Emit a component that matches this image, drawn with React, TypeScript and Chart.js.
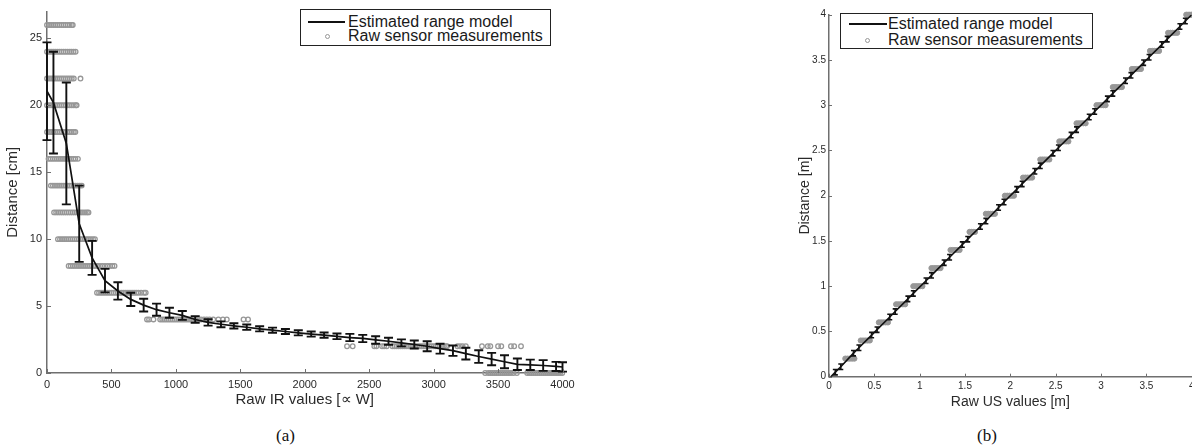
import React, { useEffect, useRef } from "react";
import { Chart, registerables } from "chart.js";

Chart.register(...registerables);

// ---------------- (a) IR sensor ----------------
const irModelX = [0, 50, 150, 250, 350, 450, 550, 650, 750, 850, 950, 1050, 1150, 1250, 1350, 1450, 1550, 1650, 1750, 1850, 1950, 2050, 2150, 2250, 2350, 2450, 2550, 2650, 2750, 2850, 2950, 3050, 3150, 3250, 3350, 3450, 3550, 3650, 3750, 3850, 3950, 4000];
const irModelMean = [21.05, 20.2, 17.15, 11.15, 8.6, 6.9, 6.13, 5.5, 5.07, 4.73, 4.5, 4.3, 4.0, 3.78, 3.64, 3.52, 3.42, 3.3, 3.2, 3.1, 3.0, 2.91, 2.83, 2.74, 2.65, 2.58, 2.47, 2.37, 2.25, 2.13, 2.0, 1.82, 1.67, 1.45, 1.23, 1.04, 0.84, 0.65, 0.61, 0.56, 0.49, 0.45];
const irModelErr = [3.65, 3.8, 4.55, 2.85, 1.27, 0.88, 0.65, 0.5, 0.48, 0.45, 0.37, 0.33, 0.25, 0.24, 0.22, 0.2, 0.2, 0.19, 0.19, 0.19, 0.19, 0.19, 0.2, 0.21, 0.27, 0.27, 0.28, 0.26, 0.26, 0.3, 0.37, 0.37, 0.39, 0.44, 0.47, 0.46, 0.49, 0.43, 0.39, 0.4, 0.34, 0.35];

// raw IR measurements: one x-list per true distance (cm)
const ir26 = [0, 16, 32, 48, 64, 80, 96, 112, 128, 144, 160, 176, 192, 200];
const ir24 = [0, 16, 32, 48, 64, 80, 96, 112, 128, 144, 160, 176, 190, 206, 222];
const ir22 = [0, 16, 32, 48, 64, 80, 96, 112, 128, 144, 160, 176, 192, 208, 260];
const ir20 = [0, 16, 32, 48, 64, 80, 96, 112, 128, 144, 160, 176, 192, 208, 224, 230];
const ir18 = [0, 16, 32, 48, 64, 80, 96, 112, 128, 144, 160, 176, 192, 208, 220];
const ir16 = [12, 28, 44, 60, 76, 92, 108, 124, 140, 156, 172, 188, 204, 220, 240];
const ir14 = [30, 46, 62, 78, 94, 110, 126, 142, 158, 174, 190, 206, 222, 238, 254, 270];
const ir12 = [55, 71, 87, 103, 119, 135, 151, 167, 183, 199, 215, 231, 247, 263, 279, 295, 310, 322];
const ir10 = [85, 101, 117, 133, 149, 165, 181, 197, 213, 229, 245, 261, 277, 293, 309, 325, 341, 357, 372];
const ir8 = [168, 184, 200, 216, 232, 248, 264, 280, 296, 312, 328, 344, 360, 376, 392, 411, 430, 450, 470, 489, 507, 524];
const ir6 = [388, 404, 420, 436, 452, 468, 484, 500, 516, 532, 548, 564, 580, 596, 612, 628, 644, 660, 676, 692, 709, 730, 753, 766];
const ir4 = [776, 792, 826, 878, 894, 910, 926, 942, 958, 974, 990, 1006, 1022, 1038, 1054, 1070, 1086, 1102, 1118, 1134, 1152, 1172, 1195, 1218, 1240, 1262, 1290, 1330, 1365, 1395, 1525, 1560];
const ir2 = [2328, 2372, 2540, 2556, 2600, 2616, 2636, 2680, 2696, 2712, 2728, 2744, 2760, 2776, 2792, 2808, 2824, 2840, 2856, 2872, 2888, 2904, 2920, 2936, 2952, 2968, 2984, 3000, 3016, 3032, 3048, 3064, 3080, 3096, 3104, 3185, 3205, 3225, 3250, 3375, 3420, 3440, 3500, 3525, 3600, 3625, 3678];
const ir0 = [3400, 3424, 3440, 3456, 3472, 3488, 3504, 3520, 3536, 3552, 3568, 3584, 3600, 3620, 3646, 3726, 3742, 3758, 3774, 3790, 3806, 3822, 3838, 3854, 3870, 3886, 3902, 3918, 3934, 3950, 3966, 3982, 3998];
const irLevels = [26, 24, 22, 20, 18, 16, 14, 12, 10, 8, 6, 4, 2, 0];
const irRows = [ir26, ir24, ir22, ir20, ir18, ir16, ir14, ir12, ir10, ir8, ir6, ir4, ir2, ir0];
const irXTicks = [0, 500, 1000, 1500, 2000, 2500, 3000, 3500, 4000];
const irYTicks = [0, 5, 10, 15, 20, 25];

// ---------------- (b) US sensor ----------------
const usModelX = [0.02, 0.07, 0.13, 0.27, 0.33, 0.47, 0.53, 0.67, 0.73, 0.87, 0.93, 1.07, 1.13, 1.27, 1.33, 1.47, 1.53, 1.67, 1.73, 1.87, 1.93, 2.07, 2.13, 2.27, 2.33, 2.47, 2.53, 2.67, 2.73, 2.87, 2.93, 3.07, 3.13, 3.27, 3.33, 3.47, 3.53, 3.67, 3.73, 3.87, 3.93, 4.0];
const usModelY = [0.0, 0.05, 0.11, 0.26, 0.32, 0.46, 0.52, 0.66, 0.72, 0.86, 0.92, 1.06, 1.12, 1.26, 1.32, 1.46, 1.52, 1.66, 1.72, 1.87, 1.93, 2.07, 2.13, 2.27, 2.33, 2.47, 2.53, 2.67, 2.73, 2.87, 2.93, 3.07, 3.13, 3.27, 3.33, 3.47, 3.53, 3.67, 3.73, 3.87, 3.93, 4.0];
const usModelErr = [0, 0.03, 0.03, 0.03, 0.03, 0.03, 0.03, 0.03, 0.03, 0.03, 0.03, 0.03, 0.03, 0.03, 0.03, 0.03, 0.03, 0.03, 0.03, 0.03, 0.03, 0.03, 0.03, 0.03, 0.03, 0.03, 0.03, 0.03, 0.03, 0.03, 0.03, 0.03, 0.03, 0.03, 0.03, 0.03, 0.03, 0.03, 0.03, 0.03, 0.03, 0];

const usLevels = [0.2, 0.4, 0.6, 0.8, 1.0, 1.2, 1.4, 1.6, 1.8, 2.0, 2.2, 2.4, 2.6, 2.8, 3.0, 3.2, 3.4, 3.6, 3.8, 4.0];
const usRows = [
  [0.18, 0.205, 0.23, 0.255, 0.28],
  [0.35, 0.375, 0.4, 0.425, 0.45],
  [0.55, 0.575, 0.6, 0.625, 0.65],
  [0.74, 0.765, 0.79, 0.815, 0.84],
  [0.93, 0.955, 0.98, 1.005, 1.03],
  [1.13, 1.155, 1.18, 1.205, 1.23],
  [1.34, 1.365, 1.39, 1.415, 1.44],
  [1.55, 1.57, 1.59, 1.61],
  [1.73, 1.755, 1.78, 1.805, 1.83],
  [1.94, 1.965, 1.99, 2.015, 2.04],
  [2.14, 2.165, 2.19, 2.215, 2.24],
  [2.33, 2.355, 2.38, 2.405, 2.43],
  [2.54, 2.565, 2.59, 2.615, 2.64],
  [2.73, 2.755, 2.78, 2.805, 2.83],
  [2.95, 2.975, 3.0, 3.025, 3.05],
  [3.13, 3.155, 3.18, 3.205, 3.23],
  [3.34, 3.365, 3.39, 3.415, 3.44],
  [3.54, 3.565, 3.59, 3.615, 3.64],
  [3.74, 3.765, 3.79, 3.815, 3.84],
  [3.94, 3.96, 3.98, 4.0],
];
const usTicks = [0, 0.5, 1, 1.5, 2, 2.5, 3, 3.5, 4];

const legendLabels = ["Estimated range model", "Raw sensor measurements"];

// ---------------- plugins ----------------
const errorBarPlugin = {
  id: "errorBars",
  afterDatasetsDraw(chart: any) {
    const ctx = chart.ctx;
    const ys = chart.scales.y;
    chart.data.datasets.forEach((ds: any, i: number) => {
      if (!ds.errors) return;
      const meta = chart.getDatasetMeta(i);
      ctx.save();
      ctx.strokeStyle = ds.errorColor;
      ctx.lineWidth = ds.errorWidth;
      meta.data.forEach((pt: any, j: number) => {
        const e = ds.errors[j];
        if (!e) return;
        const v = ds.data[j].y;
        const x = pt.x;
        const top = ys.getPixelForValue(v + e);
        const bot = ys.getPixelForValue(v - e);
        const hw = ds.capHalf;
        ctx.beginPath();
        ctx.moveTo(x, top);
        ctx.lineTo(x, bot);
        ctx.moveTo(x - hw, top);
        ctx.lineTo(x + hw, top);
        ctx.moveTo(x - hw, bot);
        ctx.lineTo(x + hw, bot);
        ctx.stroke();
      });
      ctx.restore();
    });
  },
};

const inTicksPlugin = {
  id: "inTicks",
  afterDraw(chart: any, _args: any, opts: any) {
    const { ctx, chartArea } = chart;
    const xs = chart.scales.x;
    const ys = chart.scales.y;
    const len = opts.len || 4;
    ctx.save();
    ctx.strokeStyle = opts.color || "#666";
    ctx.lineWidth = 1;
    ctx.beginPath();
    xs.ticks.forEach((t: any) => {
      const px = Math.round(xs.getPixelForValue(t.value)) + 0.5;
      ctx.moveTo(px, chartArea.bottom);
      ctx.lineTo(px, chartArea.bottom - len);
    });
    ys.ticks.forEach((t: any) => {
      const py = Math.round(ys.getPixelForValue(t.value)) + 0.5;
      ctx.moveTo(chartArea.left, py);
      ctx.lineTo(chartArea.left + len, py);
    });
    ctx.stroke();
    ctx.restore();
  },
};

const FONT = "'Liberation Sans', Arial, sans-serif";
const AXIS_GRAY = "#6f6f6f";
const TEXT = "#2a2a2a";
const RAW_GRAY = "#979797";
const plainTick = (v: any) => String(v);

function makeIRConfig(): any {
  const model = irModelX.map((x, i) => ({ x, y: irModelMean[i] }));
  const raw: { x: number; y: number }[] = [];
  irRows.forEach((row, r) => row.forEach((x) => raw.push({ x, y: irLevels[r] })));
  return {
    type: "scatter",
    data: {
      datasets: [
        {
          label: legendLabels[0],
          data: model,
          showLine: true,
          borderColor: "#111",
          borderWidth: 1.7,
          pointRadius: 0,
          tension: 0,
          order: 1,
          errors: irModelErr,
          errorColor: "#111",
          errorWidth: 1.9,
          capHalf: 4.5,
        },
        {
          label: legendLabels[1],
          data: raw,
          pointStyle: "circle",
          pointRadius: 2.3,
          borderColor: RAW_GRAY,
          backgroundColor: "rgba(255,255,255,0)",
          borderWidth: 1.3,
          order: 2,
          clip: false,
        },
      ],
    },
    options: {
      responsive: false,
      animation: false,
      events: [],
      layout: { padding: { top: 6, right: 37.5, left: 0, bottom: 0 } },
      plugins: {
        legend: { display: false },
        tooltip: { enabled: false },
        inTicks: { color: AXIS_GRAY, len: 4 },
      },
      scales: {
        x: {
          type: "linear",
          min: 0,
          max: 4000,
          afterBuildTicks: (s: any) => { s.ticks = irXTicks.map((v) => ({ value: v })); },
          afterFit: (s: any) => { s.height = 39; },
          grid: { display: false, drawTicks: false },
          border: { display: true, color: AXIS_GRAY, width: 1.5 },
          ticks: { autoSkip: false, maxRotation: 0, padding: 5, color: TEXT, font: { family: FONT, size: 11 }, callback: plainTick },
          title: { display: true, text: "Raw IR values [\u221D W]", color: TEXT, font: { family: FONT, size: 15 }, padding: { top: 0, bottom: 3 } },
        },
        y: {
          type: "linear",
          min: 0,
          max: 27,
          afterBuildTicks: (s: any) => { s.ticks = irYTicks.map((v) => ({ value: v })); },
          afterFit: (s: any) => { s.width = 47; },
          grid: { display: false, drawTicks: false },
          border: { display: true, color: AXIS_GRAY, width: 1.5 },
          ticks: { autoSkip: false, padding: 5, color: TEXT, font: { family: FONT, size: 11 }, callback: plainTick },
          title: { display: true, text: "Distance [cm]", color: TEXT, font: { family: FONT, size: 15 }, padding: { top: 4, bottom: 0 } },
        },
      },
    },
    plugins: [errorBarPlugin, inTicksPlugin],
  };
}

function makeUSConfig(): any {
  const model = usModelX.map((x, i) => ({ x, y: usModelY[i] }));
  const raw: { x: number; y: number }[] = [];
  usRows.forEach((row, r) => row.forEach((x) => raw.push({ x, y: usLevels[r] })));
  return {
    type: "scatter",
    data: {
      datasets: [
        {
          label: legendLabels[0],
          data: model,
          showLine: true,
          borderColor: "#111",
          borderWidth: 1.6,
          pointRadius: 0,
          tension: 0,
          order: 1,
          errors: usModelErr,
          errorColor: "#111",
          errorWidth: 1.6,
          capHalf: 2.5,
        },
        {
          label: legendLabels[1],
          data: raw,
          pointStyle: "circle",
          pointRadius: 2.6,
          borderColor: RAW_GRAY,
          backgroundColor: RAW_GRAY,
          borderWidth: 1,
          order: 2,
          clip: false,
        },
      ],
    },
    options: {
      responsive: false,
      animation: false,
      events: [],
      layout: { padding: { top: 14.7, right: 8.3, left: 0, bottom: 0 } },
      plugins: {
        legend: { display: false },
        tooltip: { enabled: false },
        inTicks: { color: AXIS_GRAY, len: 3 },
      },
      scales: {
        x: {
          type: "linear",
          min: 0,
          max: 4,
          afterBuildTicks: (s: any) => { s.ticks = usTicks.map((v) => ({ value: v })); },
          afterFit: (s: any) => { s.height = 35.3; },
          grid: { display: false, drawTicks: false },
          border: { display: true, color: AXIS_GRAY, width: 1.5 },
          ticks: { autoSkip: false, maxRotation: 0, padding: 4, color: TEXT, font: { family: FONT, size: 10 }, callback: plainTick },
          title: { display: true, text: "Raw US values [m]", color: TEXT, font: { family: FONT, size: 14 }, padding: { top: 0, bottom: 1 } },
        },
        y: {
          type: "linear",
          min: 0,
          max: 4,
          afterBuildTicks: (s: any) => { s.ticks = usTicks.map((v) => ({ value: v })); },
          afterFit: (s: any) => { s.width = 39; },
          grid: { display: false, drawTicks: false },
          border: { display: true, color: AXIS_GRAY, width: 1.5 },
          ticks: { autoSkip: false, padding: 3, color: TEXT, font: { family: FONT, size: 10 }, callback: plainTick },
          title: { display: true, text: "Distance [m]", color: TEXT, font: { family: FONT, size: 14 }, padding: { top: 6.6, bottom: 0 } },
        },
      },
    },
    plugins: [errorBarPlugin, inTicksPlugin],
  };
}

function ChartCanvas(props: { make: () => any; left: number; width: number; height: number }) {
  const ref = useRef<HTMLCanvasElement | null>(null);
  useEffect(() => {
    if (!ref.current) return;
    const chart = new Chart(ref.current, props.make());
    return () => chart.destroy();
  }, []);
  return (
    <canvas
      ref={ref}
      width={props.width}
      height={props.height}
      style={{ position: "absolute", left: props.left, top: 0, width: props.width, height: props.height }}
    />
  );
}

function Legend(props: { left: number; top: number; width: number; height: number; row1: number; row2: number; lineLeft: number; lineWidth: number; circleX: number; textLeft: number }) {
  const lh = 18;
  return (
    <div
      style={{
        position: "absolute",
        left: props.left,
        top: props.top,
        width: props.width,
        height: props.height,
        border: "1px solid #222",
        boxSizing: "border-box",
        background: "#fff",
        fontFamily: FONT,
        fontSize: 16,
        color: "#1a1a1a",
      }}
    >
      <div style={{ position: "absolute", left: props.lineLeft, top: props.row1 - 1, width: props.lineWidth, height: 2, background: "#111" }} />
      <div
        style={{
          position: "absolute",
          left: props.circleX - 2.5,
          top: props.row2 - 2.5,
          width: 5,
          height: 5,
          borderRadius: "50%",
          border: `1px solid ${RAW_GRAY}`,
          boxSizing: "border-box",
        }}
      />
      <div style={{ position: "absolute", left: props.textLeft, top: props.row1 - lh / 2, lineHeight: `${lh}px`, whiteSpace: "nowrap" }}>{legendLabels[0]}</div>
      <div style={{ position: "absolute", left: props.textLeft, top: props.row2 - lh / 2, lineHeight: `${lh}px`, whiteSpace: "nowrap" }}>{legendLabels[1]}</div>
    </div>
  );
}

export default function App() {
  return (
    <div style={{ position: "absolute", left: 0, top: 0, width: 1192, height: 446, overflow: "hidden", background: "#fff" }}>
      <ChartCanvas make={makeIRConfig} left={0} width={600} height={412} />
      <ChartCanvas make={makeUSConfig} left={790} width={410} height={412} />
      <Legend left={300} top={9} width={251} height={37} row1={11.5} row2={26} lineLeft={7} lineWidth={37} circleX={26.7} textLeft={47} />
      <Legend left={840} top={13} width={253} height={36} row1={9.6} row2={26} lineLeft={8} lineWidth={38} circleX={26.7} textLeft={47} />
      <div style={{ position: "absolute", left: 276, top: 426, fontFamily: "'Liberation Serif', 'Times New Roman', serif", fontSize: 17, color: "#111", whiteSpace: "nowrap" }}>(a)</div>
      <div style={{ position: "absolute", left: 977, top: 426, fontFamily: "'Liberation Serif', 'Times New Roman', serif", fontSize: 17, color: "#111", whiteSpace: "nowrap" }}>(b)</div>
    </div>
  );
}
